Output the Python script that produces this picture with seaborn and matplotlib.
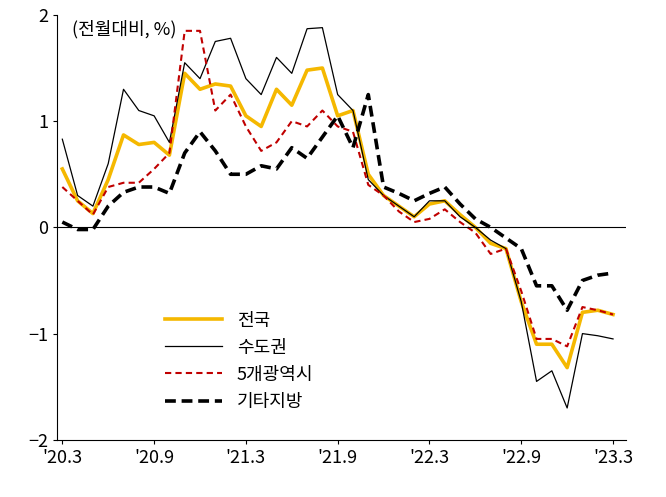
import numpy as np
import pandas as pd
import matplotlib.pyplot as plt
import seaborn as sns

plt.rcParams['font.family'] = ['Noto Sans CJK JP', 'Noto Sans CJK KR', 'Noto Sans CJK SC', 'DejaVu Sans']
plt.rcParams['axes.unicode_minus'] = True

months = pd.period_range("2020-03", "2023-03", freq="M")
tick_labels = ["'20.3", "'20.9", "'21.3", "'21.9", "'22.3", "'22.9", "'23.3"]

national = [0.55, 0.25, 0.13, 0.45, 0.87, 0.78, 0.8, 0.68, 1.45, 1.3, 1.35, 1.33,
            1.05, 0.95, 1.3, 1.15, 1.48, 1.5, 1.05, 1.1, 0.5, 0.3, 0.2, 0.1,
            0.22, 0.25, 0.12, 0.0, -0.15, -0.2, -0.7, -1.1, -1.1, -1.32, -0.8, -0.78, -0.82]
capital = [0.83, 0.3, 0.2, 0.6, 1.3, 1.1, 1.05, 0.8, 1.55, 1.4, 1.75, 1.78,
           1.4, 1.25, 1.6, 1.45, 1.87, 1.88, 1.25, 1.1, 0.45, 0.3, 0.2, 0.1,
           0.25, 0.25, 0.1, 0.0, -0.12, -0.2, -0.7, -1.45, -1.35, -1.7, -1.0, -1.02, -1.05]
metro5 = [0.38, 0.25, 0.12, 0.38, 0.42, 0.42, 0.55, 0.7, 1.85, 1.85, 1.1, 1.25,
          0.95, 0.72, 0.8, 1.0, 0.95, 1.1, 0.95, 0.9, 0.4, 0.3, 0.15, 0.05,
          0.08, 0.17, 0.05, -0.05, -0.25, -0.2, -0.6, -1.05, -1.05, -1.12, -0.75, -0.78, -0.82]
others = [0.05, -0.02, -0.02, 0.2, 0.33, 0.38, 0.38, 0.32, 0.7, 0.9, 0.72, 0.5,
          0.5, 0.58, 0.55, 0.75, 0.65, 0.85, 1.05, 0.75, 1.25, 0.38, 0.32, 0.25,
          0.32, 0.38, 0.22, 0.08, 0.0, -0.1, -0.2, -0.55, -0.55, -0.78, -0.5, -0.45, -0.43]

x = np.arange(len(months))
fig = plt.figure(figsize=(6.66, 4.97), dpi=100)
ax = fig.add_axes([0.086, 0.115, 0.854, 0.855])

sns.lineplot(x=x, y=national, ax=ax, color='#F5B800', lw=2.6, label='전국')
sns.lineplot(x=x, y=capital, ax=ax, color='black', lw=0.9, label='수도권')
sns.lineplot(x=x, y=metro5, ax=ax, color='#C00000', lw=1.5, ls=(0, (3, 2)), label='5개광역시')
sns.lineplot(x=x, y=others, ax=ax, color='black', lw=2.6, ls=(0, (3, 1.6)), label='기타지방')

ax.axhline(0, color='black', lw=0.8)
ax.set_xlim(-0.33, 36.85)
ax.set_ylim(-2, 2)
ax.set_yticks([-2, -1, 0, 1, 2])
ax.set_xticks(x[::6])
ax.set_xticklabels(tick_labels)
ax.tick_params(labelsize=13, length=3, direction='out')
for s in ['top', 'right']:
    ax.spines[s].set_visible(False)
ax.text(0.6, 1.95, '(전월대비, %)', fontsize=13, va='top')
ax.legend(loc='lower left', bbox_to_anchor=(0.16, 0.03), frameon=False,
          fontsize=13, handlelength=3.2, labelspacing=0.5)

fig.savefig('out.png')
